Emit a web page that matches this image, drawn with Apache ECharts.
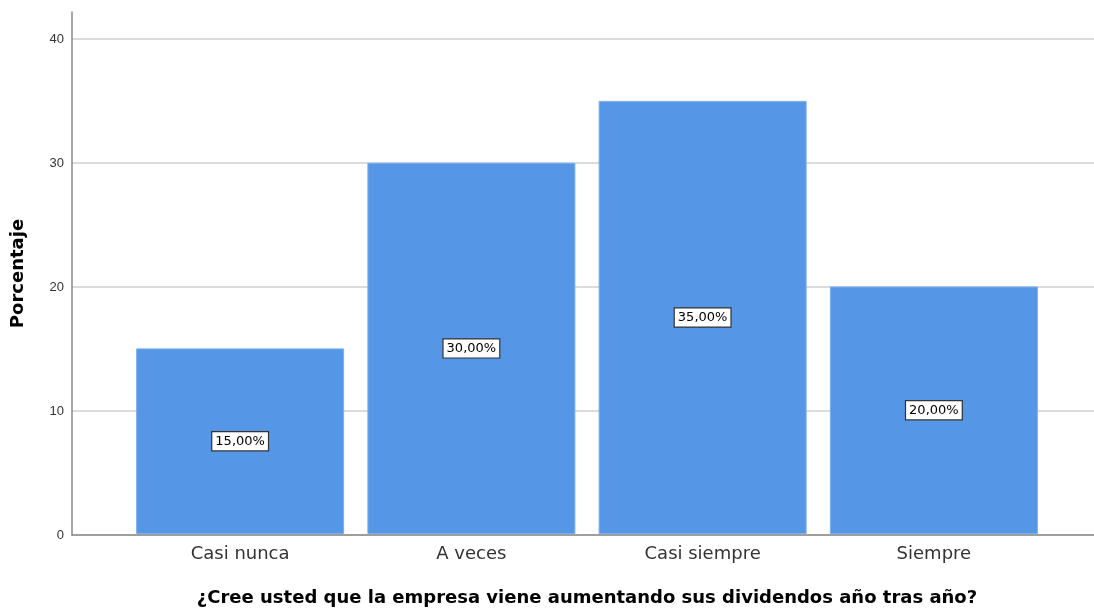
<!DOCTYPE html>
<html>
<head>
<meta charset="utf-8">
<script src="https://cdn.jsdelivr.net/npm/echarts@6/dist/echarts.min.js"></script>
<style>
  html, body { margin: 0; padding: 0; background: #fff; }
  #chart { width: 1094px; height: 612px; }
</style>
</head>
<body>
<div id="chart"></div>
<script>
// Respuestas por categoría (porcentaje)
const categories = ['Casi nunca', 'A veces', 'Casi siempre', 'Siempre'];
const percentages = [15, 30, 35, 20];
const yTicks = [0, 10, 20, 30, 40];

const xTitle = '¿Cree usted que la empresa viene aumentando sus dividendos año tras año?';
const yTitle = 'Porcentaje';

const chart = echarts.init(document.getElementById('chart'), null, { renderer: 'canvas' });

const font = '"DejaVu Sans", sans-serif';
const tickFont = 'Arial, "Liberation Sans", sans-serif';
const BOTTOM = 77;

chart.setOption({
  animation: false,
  backgroundColor: '#ffffff',
  textStyle: { fontFamily: font },
  grid: [
    // frame: axis lines spanning the full plot
    { left: 72, right: 0, top: 12, bottom: BOTTOM },
    // reference lines and tick labels
    { left: 72, right: 0, top: 39, bottom: BOTTOM },
    // bars
    { left: 124.5, right: 44.5, top: 39, bottom: BOTTOM }
  ],
  xAxis: [
    {
      gridIndex: 0, type: 'category', data: categories,
      axisLine: { show: true, lineStyle: { color: '#8a8a8a', width: 1.5 } },
      axisTick: { show: false }, axisLabel: { show: false }
    },
    {
      gridIndex: 1, type: 'category', data: categories, show: false
    },
    {
      gridIndex: 2, type: 'category', data: categories,
      axisLine: { show: false }, axisTick: { show: false },
      axisLabel: { color: '#333', fontSize: 18, margin: 11, fontFamily: font },
      name: xTitle, nameLocation: 'middle', nameGap: 55,
      nameTextStyle: { color: '#000', fontSize: 18, fontWeight: 'bold', fontFamily: font }
    }
  ],
  yAxis: [
    {
      gridIndex: 0, type: 'value', min: 0, max: 42.2,
      axisLine: { show: true, lineStyle: { color: '#8a8a8a', width: 1.5 } },
      axisTick: { show: false }, axisLabel: { show: false }, splitLine: { show: false },
      name: yTitle, nameLocation: 'middle', nameGap: 45,
      nameTextStyle: { color: '#000', fontSize: 18, fontWeight: 'bold', fontFamily: font }
    },
    {
      gridIndex: 1, type: 'value', min: yTicks[0], max: yTicks[yTicks.length - 1], interval: 10,
      axisLine: { show: false }, axisTick: { show: false },
      axisLabel: { color: '#333', fontSize: 13, margin: 8, fontFamily: tickFont },
      splitLine: { show: true, lineStyle: { color: '#cfcfcf', width: 1.5 } }
    },
    {
      gridIndex: 2, type: 'value', min: yTicks[0], max: yTicks[yTicks.length - 1], show: false
    }
  ],
  series: [
    {
      type: 'bar',
      xAxisIndex: 2, yAxisIndex: 2,
      data: percentages,
      barWidth: 208,
      itemStyle: { color: '#5596e6', borderColor: '#7aaef0', borderWidth: 1 },
      label: {
        show: true,
        position: 'inside',
        formatter: p => p.value.toFixed(2).replace('.', ',') + '%',
        color: '#000',
        fontSize: 13,
        fontFamily: font,
        backgroundColor: '#ffffff',
        borderColor: '#333',
        borderWidth: 1.2,
        padding: [3, 3, 2, 3]
      }
    }
  ]
});
</script>
</body>
</html>
